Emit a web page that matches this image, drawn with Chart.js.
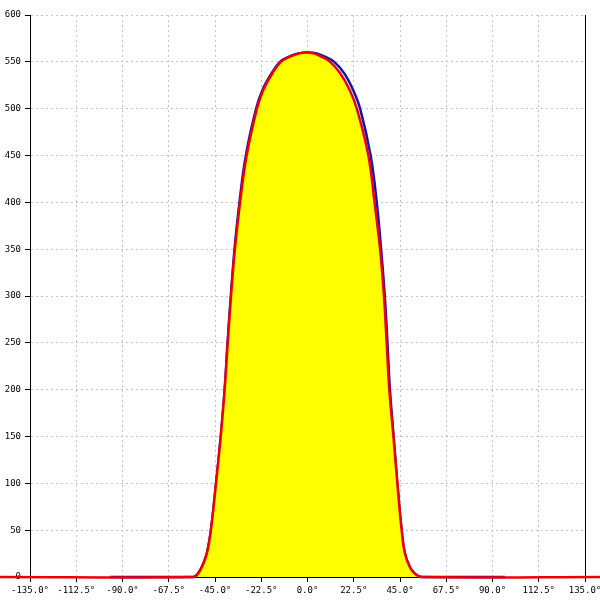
<!DOCTYPE html>
<html>
<head>
<meta charset="utf-8">
<script src="https://cdn.jsdelivr.net/npm/chart.js@4/dist/chart.umd.min.js"></script>
<style>
html,body{margin:0;padding:0;background:#fff;}
#wrap{width:600px;height:600px;}
</style>
</head>
<body>
<div id="wrap"><canvas id="c" width="600" height="600"></canvas></div>
<script>
// Red (reference) curve: angle in degrees and value
const redDeg = [-150, -55.5, -53.5, -51.5, -49, -47, -44.5, -42.2, -40.3, -38.8, -37.2, -35.3, -32.8, -29.6, -24.6, -21.5, -17, -13, -8.5, -4, -0.5, 3, 6.8, 11, 15.8, 20.5, 24, 29.6, 32.6, 35.3, 37.2, 38.5, 39.8, 41.8, 43.7, 45.8, 47.4, 49.9, 52.5, 55.5, 150];
const redVal = [0, 0, 3, 10, 25, 50, 100, 150, 200, 250, 300, 350, 400, 450, 500, 520, 538, 550, 555.5, 559, 560, 559, 555.5, 550, 538, 520, 500, 450, 400, 350, 300, 250, 200, 150, 100, 50, 25, 10, 3, 0, 0];

// Blue (measured) curve
const blueDeg = [-96, -55.5, -53.5, -51.5, -49, -47, -44.5, -42.2, -40.3, -38.9, -37.3, -35.5, -33.1, -30, -25, -21.9, -17.4, -13.4, -9, -4.5, 0.5, 4.5, 8.5, 13, 17.8, 22.2, 25.6, 30.7, 33.7, 35.8, 37.6, 38.9, 40.1, 41.9, 43.7, 45.8, 47.4, 49.9, 52.5, 55.5, 96];
const blueVal = [0, 0, 3, 10, 25, 50, 100, 150, 200, 250, 300, 350, 400, 450, 500, 520, 538, 550, 555.5, 559, 560, 559, 555.5, 550, 538, 520, 500, 450, 400, 350, 300, 250, 200, 150, 100, 50, 25, 10, 3, 0, 0];

// Axis ticks
const xMin = -135, xMax = 135, xStep = 22.5;
const yMin = 0, yMax = 600, yStep = 50;

const redPts = redDeg.map((d, i) => ({x: d, y: redVal[i]}));
const bluePts = blueDeg.map((d, i) => ({x: d, y: blueVal[i]}));

const tickFont = {family: "'DejaVu Sans Mono', monospace", size: 9};

new Chart(document.getElementById('c'), {
  type: 'line',
  data: {
    datasets: [
      {
        data: redPts,
        borderColor: '#ee0000',
        backgroundColor: '#ffff00',
        borderWidth: 2.5,
        fill: 'origin',
        pointRadius: 0,
        tension: 0.4,
        clip: false,
        order: 1
      },
      {
        data: bluePts,
        borderColor: '#1010c0',
        borderWidth: 2.5,
        fill: false,
        pointRadius: 0,
        tension: 0.4,
        clip: false,
        order: 2
      }
    ]
  },
  options: {
    responsive: false,
    animation: false,
    events: [],
    layout: {padding: {top: 15, right: 15, left: 0, bottom: 0}},
    plugins: {legend: {display: false}, tooltip: {enabled: false}},
    scales: {
      x: {
        type: 'linear',
        min: xMin, max: xMax,
        afterFit: s => { s.height = 23; s.paddingLeft = 0; s.paddingRight = 0; },
        afterBuildTicks: s => {
          const t = [];
          for (let v = xMin; v <= xMax + 1e-9; v += xStep) t.push({value: v});
          s.ticks = t;
        },
        ticks: {
          font: tickFont, color: '#000', padding: 3, maxRotation: 0, autoSkip: false,
          callback: v => Number(v).toFixed(1) + '°'
        },
        grid: {color: '#c4c4c4', lineWidth: 1, tickLength: 5, tickColor: '#000', tickBorderDash: []},
        border: {display: true, color: '#000', width: 1, dash: [2, 3]}
      },
      y: {
        type: 'linear',
        min: yMin, max: yMax,
        afterFit: s => { s.width = 30; s.paddingTop = 0; s.paddingBottom = 0; },
        ticks: {font: tickFont, color: '#000', padding: 4, stepSize: yStep},
        grid: {color: '#c4c4c4', lineWidth: 1, tickLength: 5, tickColor: '#000', tickBorderDash: []},
        border: {display: true, color: '#000', width: 1, dash: [2, 3]}
      },
      y2: {
        type: 'linear',
        position: 'right',
        min: yMin, max: yMax,
        afterFit: s => { s.width = 0; },
        ticks: {display: false},
        grid: {drawOnChartArea: false, drawTicks: false},
        border: {display: true, color: '#000', width: 1}
      }
    }
  }
});
</script>
</body>
</html>
